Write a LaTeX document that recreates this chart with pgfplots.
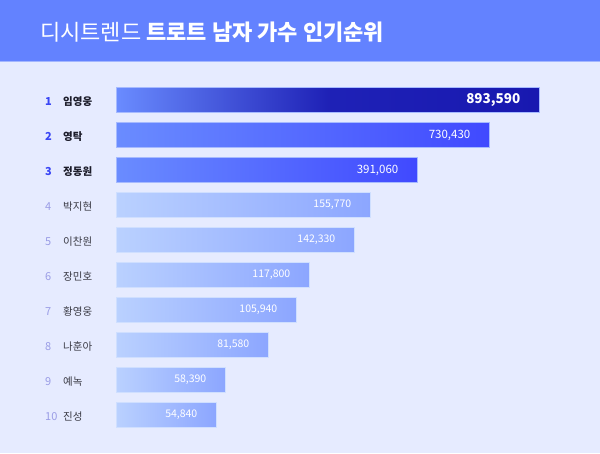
\documentclass[border=0pt]{standalone}
\usepackage{fontspec}
\setmainfont{Noto Sans CJK KR}
\usepackage{pgfplots}
\pgfplotsset{compat=1.18}
\definecolor{bg}{HTML}{E6EBFF}
\definecolor{hdr}{HTML}{6382FF}
\definecolor{hdrline}{HTML}{A3B6FF}
\definecolor{topA}{HTML}{6A8CFF}
\definecolor{topB}{HTML}{1818B0}
\definecolor{secB}{HTML}{4049FF}
\definecolor{lowA}{HTML}{BAD1FF}
\definecolor{lowB}{HTML}{8CA6FF}
\definecolor{rankTop}{HTML}{3A46F5}
\definecolor{rankLow}{HTML}{9A9CE6}
\definecolor{nameTop}{HTML}{1C1C2A}
\definecolor{nameLow}{HTML}{3A3A44}
\pgfplotsset{
  vbar/.style={xbar, bar shift=0pt, bar width=25pt, line width=0.7pt,
    point meta=explicit, nodes near coords={\pgfmathprintnumber[fixed,precision=0,1000 sep={,},assume math mode=true]{\pgfplotspointmeta}},
    every node near coord/.append style={anchor=east, xshift=-15pt, text=white}},
  lowbar/.style={vbar, draw=lowA!70!white, left color=lowA, right color=lowB,
    every node near coord/.append style={font=\fontsize{10.5}{12}\selectfont}},
}
\begin{document}
\begin{tikzpicture}
\fill[bg] (0,0) rectangle (600pt,453pt);
\fill[hdr] (0,392pt) rectangle (600pt,453pt);
\fill[hdrline] (0,390.8pt) rectangle (600pt,392pt);
\begin{axis}[at={(0,0)}, anchor=south west, scale only axis, width=600pt, height=453pt,
  xmin=-116, xmax=484, ymin=-1.857, ymax=11.0857, y dir=reverse,
  hide axis, clip=false]
\addplot[vbar, draw=topA!60!white, left color=topA, right color=topB, middle color=topB!92!topA,
  every node near coord/.append style={font=\bfseries\fontsize{13.5}{15}\selectfont}] coordinates {(423,1) [893590]};
\addplot[vbar, draw=topA!60!white, left color=topA, right color=secB,
  every node near coord/.append style={font=\fontsize{11.5}{13}\selectfont}] coordinates {(373,2) [730430]};
\addplot[vbar, draw=topA!60!white, left color=topA, right color=secB,
  every node near coord/.append style={font=\fontsize{11.5}{13}\selectfont}] coordinates {(301,3) [391060]};
\addplot[lowbar] coordinates {(254,4) [155770]};
\addplot[lowbar] coordinates {(238,5) [142330]};
\addplot[lowbar] coordinates {(193,6) [117800]};
\addplot[lowbar] coordinates {(180,7) [105940]};
\addplot[lowbar] coordinates {(152,8) [81580]};
\addplot[lowbar] coordinates {(109,9) [58390]};
\addplot[lowbar] coordinates {(100,10) [54840]};
% title
\node[anchor=base west, text=white, inner sep=0pt, font=\fontsize{22}{26}\selectfont] at (axis cs:-76,-0.714) {디시트렌드 \textbf{트로트 남자 가수 인기순위}};
% ranks
\tikzset{rt/.style={anchor=base west, inner sep=0pt, text=rankTop, font=\bfseries\fontsize{11}{12}\selectfont},
  rl/.style={anchor=base west, inner sep=0pt, text=rankLow, font=\fontsize{11}{12}\selectfont},
  nt/.style={anchor=base west, inner sep=0pt, text=nameTop, font=\bfseries\fontsize{10.5}{12}\selectfont},
  nl/.style={anchor=base west, inner sep=0pt, text=nameLow, font=\fontsize{10.5}{12}\selectfont}}
\node[rt] at (axis cs:-71,1.15) {1};
\node[rt] at (axis cs:-71,2.15) {2};
\node[rt] at (axis cs:-71,3.15) {3};
\node[rl] at (axis cs:-71,4.15) {4};
\node[rl] at (axis cs:-71,5.15) {5};
\node[rl] at (axis cs:-71,6.15) {6};
\node[rl] at (axis cs:-71,7.15) {7};
\node[rl] at (axis cs:-71,8.15) {8};
\node[rl] at (axis cs:-71,9.15) {9};
\node[rl] at (axis cs:-71,10.15) {10};
\node[nt] at (axis cs:-53,1.15) {임영웅};
\node[nt] at (axis cs:-53,2.15) {영탁};
\node[nt] at (axis cs:-53,3.15) {정동원};
\node[nl] at (axis cs:-53,4.15) {박지현};
\node[nl] at (axis cs:-53,5.15) {이찬원};
\node[nl] at (axis cs:-53,6.15) {장민호};
\node[nl] at (axis cs:-53,7.15) {황영웅};
\node[nl] at (axis cs:-53,8.15) {나훈아};
\node[nl] at (axis cs:-53,9.15) {예녹};
\node[nl] at (axis cs:-53,10.15) {진성};
\end{axis}
\end{tikzpicture}
\end{document}
